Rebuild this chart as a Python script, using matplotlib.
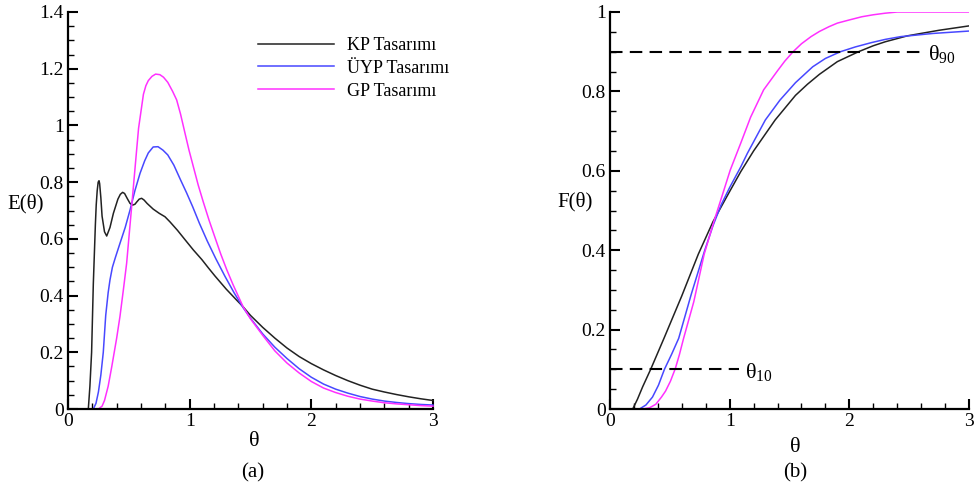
import matplotlib
matplotlib.use("Agg")
import matplotlib.pyplot as plt
from matplotlib.ticker import MultipleLocator, FormatStrFormatter

plt.rcParams['font.family'] = ['Liberation Serif', 'DejaVu Serif']
plt.rcParams['mathtext.fontset'] = 'custom'
plt.rcParams['mathtext.rm'] = 'Liberation Serif'
plt.rcParams['mathtext.it'] = 'Liberation Serif:italic'

# E(theta) curves, panel (a)
kp_e_x = [0, 0.167, 0.18, 0.194, 0.208, 0.225, 0.232, 0.24, 0.248, 0.255, 0.26, 0.27, 0.28,
          0.3, 0.318, 0.345, 0.373, 0.41, 0.43, 0.449, 0.465, 0.49, 0.51, 0.531, 0.55, 0.565,
          0.585, 0.605, 0.625, 0.65, 0.7, 0.75, 0.797, 0.838, 0.9, 0.96, 1.03, 1.1, 1.155,
          1.208, 1.25, 1.3, 1.386, 1.44, 1.5, 1.6, 1.7, 1.8, 1.9, 2.0, 2.1, 2.2, 2.3, 2.4,
          2.5, 2.6, 2.7, 2.8, 2.9, 3.0]
kp_e_y = [0, 0, 0.08, 0.2, 0.44, 0.65, 0.72, 0.77, 0.8, 0.805, 0.795, 0.745, 0.68,
          0.625, 0.61, 0.64, 0.69, 0.74, 0.757, 0.764, 0.76, 0.74, 0.725, 0.719, 0.722, 0.73,
          0.74, 0.743, 0.737, 0.725, 0.705, 0.69, 0.678, 0.66, 0.63, 0.598, 0.561, 0.527, 0.497,
          0.469, 0.448, 0.423, 0.384, 0.36, 0.33, 0.288, 0.25, 0.215, 0.185, 0.16, 0.138, 0.118,
          0.1, 0.084, 0.07, 0.06, 0.051, 0.043, 0.036, 0.03]

uyp_e_x = [0, 0.208, 0.23, 0.25, 0.27, 0.29, 0.31, 0.33, 0.345, 0.365, 0.39, 0.427, 0.47,
           0.51, 0.55, 0.592, 0.63, 0.66, 0.7, 0.74, 0.78, 0.82, 0.87, 0.925, 0.975, 1.025,
           1.08, 1.145, 1.215, 1.29, 1.365, 1.44, 1.5, 1.6, 1.7, 1.8, 1.9, 2.0, 2.1, 2.2,
           2.3, 2.4, 2.5, 2.6, 2.7, 2.8, 2.9, 3.0]
uyp_e_y = [0, 0, 0.02, 0.06, 0.12, 0.2, 0.33, 0.41, 0.455, 0.5, 0.535, 0.584, 0.64,
           0.702, 0.77, 0.831, 0.875, 0.903, 0.924, 0.925, 0.913, 0.896, 0.86, 0.808, 0.762, 0.713,
           0.655, 0.592, 0.53, 0.468, 0.41, 0.357, 0.32, 0.265, 0.218, 0.178, 0.142, 0.112, 0.088, 0.07,
           0.056, 0.044, 0.035, 0.028, 0.023, 0.019, 0.016, 0.014]

gp_e_x = [0, 0.25, 0.28, 0.3, 0.33, 0.36, 0.4, 0.427, 0.455, 0.482, 0.523, 0.564, 0.58,
          0.6, 0.62, 0.64, 0.66, 0.69, 0.72, 0.755, 0.785, 0.82, 0.86, 0.893, 0.925, 0.962,
          0.995, 1.03, 1.07, 1.112, 1.16, 1.208, 1.255, 1.304, 1.355, 1.408, 1.44, 1.5, 1.6,
          1.7, 1.8, 1.9, 2.0, 2.1, 2.2, 2.3, 2.4, 2.5, 2.6, 2.7, 2.8, 2.9, 3.0]
gp_e_y = [0, 0, 0.01, 0.03, 0.08, 0.15, 0.25, 0.326, 0.42, 0.514, 0.713, 0.913, 0.99,
          1.05, 1.11, 1.14, 1.158, 1.173, 1.181, 1.179, 1.17, 1.152, 1.12, 1.09, 1.04, 0.972,
          0.912, 0.855, 0.79, 0.73, 0.665, 0.605, 0.547, 0.492, 0.44, 0.39, 0.36, 0.318, 0.26,
          0.205, 0.162, 0.127, 0.097, 0.074, 0.058, 0.045, 0.035, 0.028, 0.022, 0.018, 0.015, 0.012, 0.01]

# F(theta) curves, panel (b)
kp_f_x = [0, 0.19, 0.23, 0.273, 0.34, 0.451, 0.6, 0.738, 0.861, 1.0, 1.093, 1.2, 1.38,
          1.55, 1.65, 1.75, 1.9, 2.077, 2.2, 2.3, 2.486, 2.75, 3.0]
kp_f_y = [0, 0, 0.025, 0.056, 0.1, 0.178, 0.285, 0.39, 0.472, 0.548, 0.598, 0.65, 0.728,
          0.79, 0.818, 0.843, 0.875, 0.9, 0.915, 0.925, 0.94, 0.954, 0.965]

uyp_f_x = [0, 0.246, 0.3, 0.355, 0.405, 0.455, 0.515, 0.574, 0.68, 0.792, 0.861, 0.93, 1.0,
           1.093, 1.148, 1.298, 1.42, 1.55, 1.694, 1.8, 1.926, 2.05, 2.186, 2.3, 2.43, 2.7, 3.0]
uyp_f_y = [0, 0, 0.01, 0.03, 0.06, 0.1, 0.138, 0.178, 0.29, 0.4, 0.462, 0.515, 0.558,
           0.61, 0.644, 0.728, 0.778, 0.822, 0.862, 0.883, 0.9, 0.912, 0.923, 0.931, 0.938, 0.946, 0.952]

gp_f_x = [0, 0.273, 0.33, 0.383, 0.43, 0.464, 0.505, 0.546, 0.58, 0.615, 0.7, 0.787, 0.874,
          0.94, 1.005, 1.093, 1.175, 1.284, 1.4, 1.46, 1.53, 1.6, 1.68, 1.75, 1.83, 1.9, 2.0,
          2.104, 2.2, 2.3, 2.4, 3.0]
gp_f_y = [0, 0, 0.003, 0.012, 0.03, 0.045, 0.07, 0.102, 0.137, 0.178, 0.27, 0.39, 0.478,
          0.54, 0.602, 0.67, 0.735, 0.804, 0.852, 0.876, 0.9, 0.92, 0.938, 0.951, 0.963, 0.972, 0.98,
          0.988, 0.993, 0.997, 1.0, 1.0]

labels = ["KP Tasarımı", "ÜYP Tasarımı", "GP Tasarımı"]
colors = ["#222222", "#4848ff", "#ff30ff"]

fig = plt.figure(figsize=(9.74, 4.91), dpi=100)
W, H = 974, 491

def make_axes(x0, x1, y0, y1):
    return fig.add_axes([x0 / W, 1 - y1 / H, (x1 - x0) / W, (y1 - y0) / H])

ax1 = make_axes(68, 433, 12, 409)
ax2 = make_axes(610, 969, 12, 409)

for ax in (ax1, ax2):
    ax.spines['top'].set_visible(False)
    ax.spines['right'].set_visible(False)
    ax.spines['left'].set_linewidth(1.6)
    ax.spines['bottom'].set_linewidth(1.6)
    ax.set_xlim(0, 3)
    ax.xaxis.set_major_locator(MultipleLocator(1))
    ax.xaxis.set_minor_locator(MultipleLocator(0.2))
    ax.yaxis.set_minor_locator(MultipleLocator(0.05))
    ax.yaxis.set_major_formatter(FormatStrFormatter('%g'))
    ax.xaxis.set_major_formatter(FormatStrFormatter('%g'))
    ax.tick_params(which='major', direction='in', length=7, width=1.5, labelsize=14, pad=3)
    ax.tick_params(which='minor', direction='in', length=4, width=1)
    ax.patch.set_visible(False)

ax1.set_ylim(0, 1.4)
ax1.yaxis.set_major_locator(MultipleLocator(0.2))
ax2.set_ylim(0, 1)
ax2.yaxis.set_major_locator(MultipleLocator(0.2))

ex = [kp_e_x, uyp_e_x, gp_e_x]
ey = [kp_e_y, uyp_e_y, gp_e_y]
fx = [kp_f_x, uyp_f_x, gp_f_x]
fy = [kp_f_y, uyp_f_y, gp_f_y]
for i in range(3):
    ax1.plot(ex[i], ey[i], color=colors[i], lw=1.1, label=labels[i], clip_on=False)
    ax2.plot(fx[i], fy[i], color=colors[i], lw=1.1)

ax1.legend(loc='upper left', bbox_to_anchor=(258 / W, 1 - 37 / H), bbox_transform=fig.transFigure,
           frameon=False, fontsize=13, handlelength=4.2, handletextpad=0.75, labelspacing=0.32,
           borderpad=0, borderaxespad=0)

# theta10 / theta90 reference lines
ax2.plot([0, 2.62], [0.9, 0.9], color='black', lw=1.5, ls=(0, (6, 3.5)))
ax2.plot([0, 1.08], [0.1, 0.1], color='black', lw=1.5, ls=(0, (6, 3.5)))
ax2.text(2.66, 0.893, r'$\mathrm{θ}_{\mathrm{90}}$', fontsize=16, va='center', ha='left')
ax2.text(1.13, 0.093, r'$\mathrm{θ}_{\mathrm{10}}$', fontsize=16, va='center', ha='left')

fig.text(26 / W, 1 - 204 / H, "E(θ)", fontsize=15, ha='center', va='center')
fig.text(575 / W, 1 - 202 / H, "F(θ)", fontsize=15, ha='center', va='center')
fig.text(254 / W, 1 - 441 / H, "θ", fontsize=16, ha='center', va='center')
fig.text(795 / W, 1 - 448 / H, "θ", fontsize=16, ha='center', va='center')
fig.text(253 / W, 1 - 473 / H, "(a)", fontsize=15, ha='center', va='center')
fig.text(795 / W, 1 - 473 / H, "(b)", fontsize=15, ha='center', va='center')

fig.savefig("out.png", dpi=100)
